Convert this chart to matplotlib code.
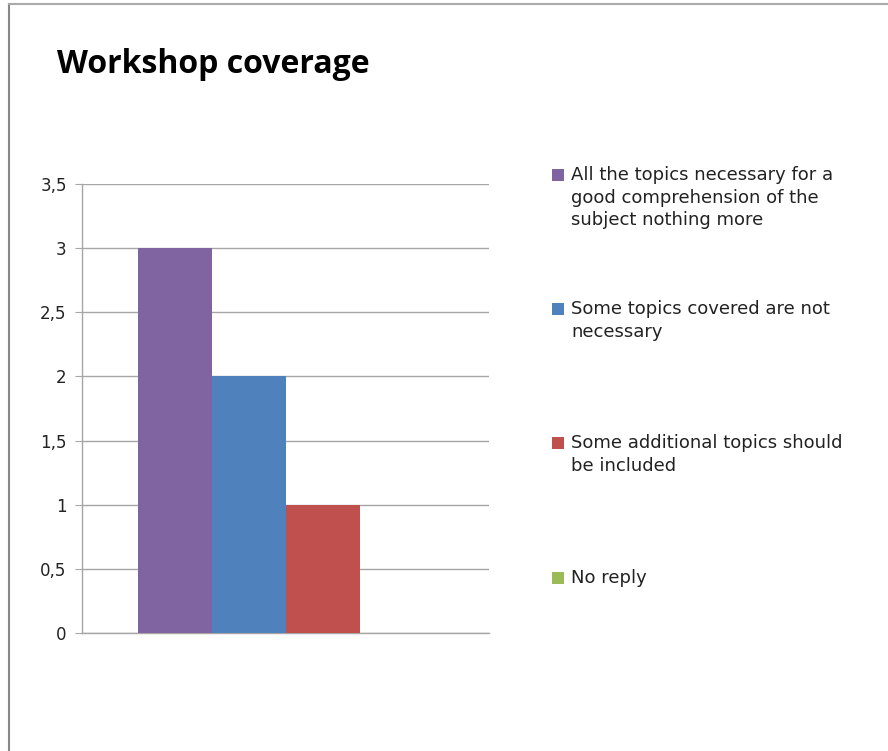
import matplotlib
matplotlib.use("Agg")
import matplotlib.pyplot as plt
from matplotlib.lines import Line2D
from matplotlib.patches import Rectangle

# Données
categories = ["All the topics necessary for a\ngood comprehension of the\nsubject nothing more",
              "Some topics covered are not\nnecessary",
              "Some additional topics should\nbe included",
              "No reply"]
values = [3, 2, 1, 0]
colors = ["#8064A2", "#4F81BD", "#C0504D", "#9BBB59"]
yticks = [0, 0.5, 1, 1.5, 2, 2.5, 3, 3.5]
ytick_labels = ["0", "0,5", "1", "1,5", "2", "2,5", "3", "3,5"]

W, H = 888, 751
fig = plt.figure(figsize=(W / 100, H / 100), dpi=100)
ax = fig.add_axes([82 / W, 1 - 633 / H, (489 - 82) / W, (633 - 184) / H])

# Barres groupées (style Excel, gap 150 %)
n = len(values)
bw = 1 / (n + 1.5)
x0 = -n * bw / 2 + bw / 2
bars = []
for i, (v, c) in enumerate(zip(values, colors)):
    b = ax.bar(x0 + i * bw, v, bw, color=c, zorder=3)
    bars.append(b)

ax.set_xlim(-0.5, 0.5)
ax.set_ylim(0, 3.5)
ax.set_yticks(yticks)
ax.set_yticklabels(ytick_labels, fontsize=12, color="#222222", family="DejaVu Sans")
ax.set_xticks([])
ax.grid(axis="y", color="#a6a6a6", linewidth=1, zorder=0)
for s in ["top", "right"]:
    ax.spines[s].set_visible(False)
for s in ["left", "bottom"]:
    ax.spines[s].set_color("#a6a6a6")
    ax.spines[s].set_linewidth(1)
ax.tick_params(axis="y", length=5, color="#a6a6a6", pad=6)

# Titre
fig.text(57 / W, 1 - 73 / H, "Workshop coverage", fontsize=23, fontweight="bold",
         family="Open Sans", va="baseline", ha="left")

# Légende manuelle (entrées espacées régulièrement comme dans Excel)
first_line_y = [175, 309, 443, 578]
for b, label, yy in zip(bars, categories, first_line_y):
    fig.patches.append(Rectangle((552 / W, 1 - (yy + 6) / H), 12 / W, 12 / H,
                                 transform=fig.transFigure, facecolor=b.patches[0].get_facecolor(),
                                 edgecolor="none"))
    fig.text(571 / W, 1 - (yy - 9) / H, label, fontsize=13, va="top", ha="left",
             linespacing=1.33, color="#222222", family="DejaVu Sans")

# Cadre
fig.add_artist(Line2D([9 / W, 9 / W], [0, 1 - 4 / H], transform=fig.transFigure,
                      color="#888888", linewidth=1.5))
fig.add_artist(Line2D([9 / W, 1], [1 - 4 / H, 1 - 4 / H], transform=fig.transFigure,
                      color="#aaaaaa", linewidth=1.5))

fig.savefig("out.png", dpi=100)
